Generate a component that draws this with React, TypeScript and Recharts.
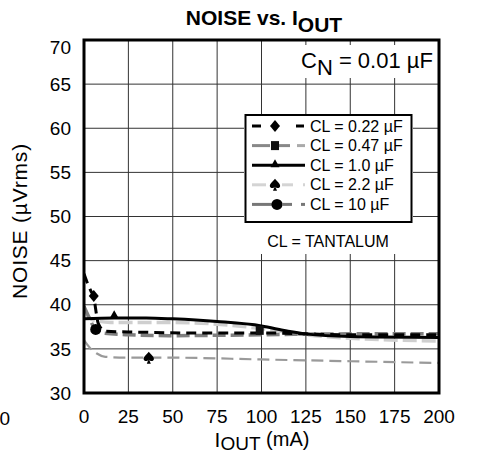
import React from "react";
import {
    CartesianGrid,
    ComposedChart,
    Line,
    Scatter,
    XAxis,
    YAxis,
} from "recharts";

// curves (x = IOUT in mA, y = noise in µVrms)
const cl022 = [
    { x: 0, y: 43.5 },
    { x: 2, y: 42.4 },
    { x: 4, y: 41.5 },
    { x: 5.5, y: 41.0 },
    { x: 6.5, y: 39.6 },
    { x: 8, y: 37.9 },
    { x: 12, y: 37.0 },
    { x: 30, y: 36.9 },
    { x: 60, y: 36.8 },
    { x: 100, y: 36.8 },
    { x: 150, y: 36.6 },
    { x: 200, y: 36.6 },
];
const cl047 = [
    { x: 0, y: 39.8 },
    { x: 3, y: 38.5 },
    { x: 6, y: 37.3 },
    { x: 10, y: 36.8 },
    { x: 25, y: 36.6 },
    { x: 50, y: 36.5 },
    { x: 100, y: 36.6 },
    { x: 150, y: 36.7 },
    { x: 200, y: 36.7 },
];
const cl10 = [
    { x: 0, y: 38.4 },
    { x: 17, y: 38.5 },
    { x: 35, y: 38.5 },
    { x: 50, y: 38.4 },
    { x: 75, y: 38.1 },
    { x: 100, y: 37.6 },
    { x: 115, y: 37.0 },
    { x: 125, y: 36.7 },
    { x: 150, y: 36.4 },
    { x: 200, y: 36.3 },
];
const cl22 = [
    { x: 0, y: 39.2 },
    { x: 5, y: 38.3 },
    { x: 15, y: 38.0 },
    { x: 50, y: 38.0 },
    { x: 75, y: 37.8 },
    { x: 100, y: 37.3 },
    { x: 125, y: 36.6 },
    { x: 150, y: 36.2 },
    { x: 200, y: 35.9 },
];
const cl100 = [
    { x: 0, y: 36.0 },
    { x: 3, y: 35.2 },
    { x: 7, y: 34.5 },
    { x: 12, y: 34.1 },
    { x: 25, y: 34.0 },
    { x: 50, y: 34.0 },
    { x: 100, y: 33.8 },
    { x: 150, y: 33.6 },
    { x: 200, y: 33.4 },
];

// single marker per curve, where the reference puts them
const diamondPts = [{ x: 5.5, y: 41.0 }];
const squarePts = [{ x: 99, y: 37.1 }];
const trianglePts = [{ x: 17, y: 38.8 }];
const spadePts = [{ x: 36.5, y: 34.0 }];
const circlePts = [{ x: 6.6, y: 37.2 }];

const xTicks = [0, 25, 50, 75, 100, 125, 150, 175, 200];
const yTicks = [30, 35, 40, 45, 50, 55, 60, 65, 70];

const legendLabels = [
    "CL = 0.22 µF",
    "CL = 0.47 µF",
    "CL = 1.0 µF",
    "CL = 2.2 µF",
    "CL = 10 µF",
];

const FONT = '"Liberation Sans", Arial, Helvetica, sans-serif';

const diamond = (cx: number, cy: number) => (
    <path
        d={`M${cx},${cy - 6} L${cx + 5},${cy} L${cx},${cy + 6} L${cx - 5},${cy} Z`}
        fill="#000"
    />
);
const square = (cx: number, cy: number) => (
    <rect x={cx - 4} y={cy - 4.5} width={8} height={9} fill="#111" />
);
const triangle = (cx: number, cy: number) => (
    <path
        d={`M${cx},${cy - 5} L${cx + 4.5},${cy + 3} L${cx - 4.5},${cy + 3} Z`}
        fill="#000"
    />
);
const spade = (cx: number, cy: number) => (
    <g fill="#000">
        <path
            d={`M${cx},${cy - 6} C${cx + 2},${cy - 3} ${cx + 6},${cy - 1} ${cx + 5},${cy + 2} C${cx + 4},${cy + 4} ${cx + 1.5},${cy + 3.5} ${cx},${cy + 2} C${cx - 1.5},${cy + 3.5} ${cx - 4},${cy + 4} ${cx - 5},${cy + 2} C${cx - 6},${cy - 1} ${cx - 2},${cy - 3} ${cx},${cy - 6} Z`}
        />
        <path d={`M${cx},${cy + 1} L${cx + 2},${cy + 6} L${cx - 2},${cy + 6} Z`} />
    </g>
);
const circle = (cx: number, cy: number) => (
    <circle cx={cx} cy={cy} r={5.5} fill="#000" />
);

const shapeOf =
    (fn: (cx: number, cy: number) => React.ReactElement) => (props: any) =>
        fn(props.cx, props.cy);

const YTick = (props: any) => {
    const { x, y, payload } = props;
    const dy = payload.value === 70 ? 7 : 0;
    return (
        <text
            x={x}
            y={y + dy}
            dy="0.355em"
            textAnchor="end"
            fontSize={19}
            fontFamily={FONT}
            fill="#000"
        >
            {payload.value}
        </text>
    );
};

const XTick = (props: any) => {
    const { x, y, payload } = props;
    return (
        <text
            x={x}
            y={y}
            dy="0.71em"
            textAnchor="middle"
            fontSize={19}
            fontFamily={FONT}
            fill="#000"
        >
            {payload.value}
        </text>
    );
};

// legend row drawings (overlay)
const legendRow = (i: number, y: number) => {
    const mx = 275;
    switch (i) {
        case 0:
            return (
                <g>
                    <line x1={252} x2={261} y1={y} y2={y} stroke="#000" strokeWidth={3} />
                    {diamond(mx, y)}
                    <line x1={296} x2={304} y1={y} y2={y} stroke="#000" strokeWidth={3} />
                </g>
            );
        case 1:
            return (
                <g>
                    <line x1={252} x2={270} y1={y} y2={y} stroke="#888" strokeWidth={3} />
                    {square(mx, y)}
                    <line x1={279} x2={290} y1={y} y2={y} stroke="#888" strokeWidth={3} />
                    <line x1={297} x2={305} y1={y} y2={y} stroke="#aaa" strokeWidth={3} />
                </g>
            );
        case 2:
            return (
                <g>
                    <line x1={252} x2={305} y1={y} y2={y} stroke="#000" strokeWidth={3} />
                    {triangle(mx, y - 1)}
                </g>
            );
        case 3:
            return (
                <g>
                    <line x1={252} x2={266} y1={y} y2={y} stroke="#d4d4d4" strokeWidth={3} />
                    {spade(mx, y)}
                    <line x1={282} x2={293} y1={y} y2={y} stroke="#d4d4d4" strokeWidth={3} />
                    <line x1={303} x2={305} y1={y} y2={y} stroke="#d4d4d4" strokeWidth={3} />
                </g>
            );
        default:
            return (
                <g>
                    <line x1={252} x2={272} y1={y} y2={y} stroke="#777" strokeWidth={3} />
                    {circle(mx + 2, y)}
                    <line x1={282} x2={292} y1={y} y2={y} stroke="#777" strokeWidth={3} />
                    <line x1={301} x2={305} y1={y} y2={y} stroke="#777" strokeWidth={3} />
                </g>
            );
    }
};

export default function App() {
    const W = 483;
    const H = 452;
    return (
        <div
            style={{
                position: "absolute",
                left: 0,
                top: 0,
                width: W,
                height: H,
                background: "#fff",
                fontFamily: FONT,
            }}
        >
            <ComposedChart
                width={W}
                height={H}
                margin={{ top: 40, right: 44, bottom: 0, left: 0 }}
            >
                <CartesianGrid stroke="#333" strokeWidth={1} />
                <XAxis
                    dataKey="x"
                    type="number"
                    domain={[0, 200]}
                    ticks={xTicks}
                    height={59}
                    tickSize={0}
                    tickMargin={17}
                    axisLine={false}
                    tickLine={false}
                    tick={<XTick />}
                    allowDataOverflow
                />
                <YAxis
                    type="number"
                    domain={[30, 70]}
                    ticks={yTicks}
                    width={84}
                    tickSize={0}
                    tickMargin={13}
                    axisLine={false}
                    tickLine={false}
                    tick={<YTick />}
                    allowDataOverflow
                />
                <Line
                    data={cl100}
                    dataKey="y"
                    type="monotone"
                    stroke="#9a9a9a"
                    strokeWidth={2.2}
                    strokeDasharray="12 6"
                    dot={false}
                    isAnimationActive={false}
                />
                <Line
                    data={cl22}
                    dataKey="y"
                    type="monotone"
                    stroke="#cfcfcf"
                    strokeWidth={3.5}
                    strokeDasharray="14 5"
                    dot={false}
                    isAnimationActive={false}
                />
                <Line
                    data={cl047}
                    dataKey="y"
                    type="monotone"
                    stroke="#7f7f7f"
                    strokeWidth={3.5}
                    strokeDasharray="13 5"
                    dot={false}
                    isAnimationActive={false}
                />
                <Line
                    data={cl10}
                    dataKey="y"
                    type="monotone"
                    stroke="#000"
                    strokeWidth={3}
                    dot={false}
                    isAnimationActive={false}
                />
                <Line
                    data={cl022}
                    dataKey="y"
                    type="monotone"
                    stroke="#000"
                    strokeWidth={3}
                    strokeDasharray="10 6"
                    dot={false}
                    isAnimationActive={false}
                />
                <Scatter data={diamondPts} dataKey="y" shape={shapeOf(diamond)} isAnimationActive={false} />
                <Scatter data={squarePts} dataKey="y" shape={shapeOf(square)} isAnimationActive={false} />
                <Scatter data={trianglePts} dataKey="y" shape={shapeOf(triangle)} isAnimationActive={false} />
                <Scatter data={spadePts} dataKey="y" shape={shapeOf(spade)} isAnimationActive={false} />
                <Scatter data={circlePts} dataKey="y" shape={shapeOf(circle)} isAnimationActive={false} />
            </ComposedChart>
            <svg
                width={W}
                height={H}
                style={{ position: "absolute", left: 0, top: 0, pointerEvents: "none" }}
                fontFamily={FONT}
            >
                {/* white patches behind annotations */}
                <rect x={297} y={45} width={140} height={33} fill="#fff" />
                <rect x={244} y={114} width={169} height={140} fill="#fff" />
                {/* plot frame */}
                <rect x={84} y={40} width={355} height={353} fill="none" stroke="#000" strokeWidth={3} />
                {/* title */}
                <text x={264} y={25} textAnchor="middle" fontSize={21} fontWeight="bold" fill="#000">
                    NOISE vs. I<tspan dy={6.5}>OUT</tspan>
                </text>
                {/* C_N annotation */}
                <text x={301} y={68} fontSize={22} fill="#000">
                    C<tspan dy={6.5}>N</tspan>
                    <tspan dy={-6.5}> = 0.01 µF</tspan>
                </text>
                {/* legend */}
                <rect x={245.5} y={115} width={166} height={107} fill="#fff" stroke="#000" strokeWidth={2} />
                {legendLabels.map((lab, i) => {
                    const base = 131.5 + i * 19.6;
                    return (
                        <g key={lab}>
                            {legendRow(i, base - 5.5)}
                            <text x={310} y={base} fontSize={16} fill="#000">
                                {lab}
                            </text>
                        </g>
                    );
                })}
                <text x={328} y={246.5} textAnchor="middle" fontSize={16} fill="#000">
                    CL = TANTALUM
                </text>
                {/* axis titles */}
                <text
                    transform="translate(27,221) rotate(-90)"
                    textAnchor="middle"
                    fontSize={21}
                    letterSpacing={0.8}
                    fill="#000"
                >
                    NOISE (µVrms)
                </text>
                <text x={262} y={447} textAnchor="middle" fill="#000">
                    <tspan fontSize={21}>I</tspan>
                    <tspan fontSize={19} dy={2.5}>OUT</tspan>
                    <tspan fontSize={20} dy={-4}> (mA)</tspan>
                </text>
                {/* clipped label from neighbouring figure */}
                <text x={10} y={425} textAnchor="end" fontSize={19} fill="#000">
                    0
                </text>
            </svg>
        </div>
    );
}
